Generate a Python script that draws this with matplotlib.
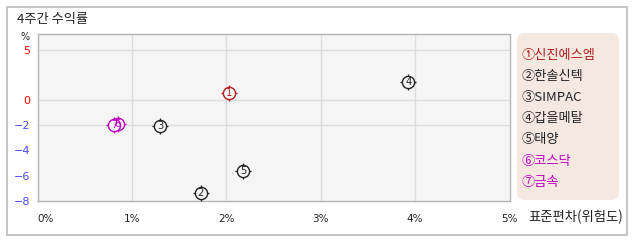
import numpy as np
import matplotlib
matplotlib.use("Agg")
import matplotlib.pyplot as plt
from matplotlib.patches import FancyBboxPatch, Rectangle
import matplotlib.transforms as mtransforms

plt.rcParams['font.family'] = ['Noto Sans CJK KR', 'DejaVu Sans']

# ---- data ----
names = ["신진에스엠", "한솔신텍", "SIMPAC", "갑을메탈", "태양", "코스닥", "금속"]
numbers = ["1", "2", "3", "4", "5", "6", "7"]
circled = ["①", "②", "③", "④", "⑤", "⑥", "⑦"]
risk_pct = [2.03, 1.73, 1.30, 3.93, 2.18, 0.85, 0.81]      # std dev (%)
return_pct = [0.7, -7.4, -2.05, 1.8, -5.6, -1.93, -2.02]   # 4-week return (%)
colors = ["#b01c1c", "#222222", "#222222", "#222222", "#222222", "#c000c0", "#c000c0"]

x_ticks = [0, 1, 2, 3, 4, 5]
x_tick_labels = ["0%", "1%", "2%", "3%", "4%", "5%"]
y_ticks = [5, 0, -2, -4, -6, -8]
y_tick_colors = ["#ff0000", "#ff0000", "#4a4aff", "#4a4aff", "#4a4aff", "#4a4aff"]
x_grid = [1, 2, 3, 4]
y_grid = [5, 0, -2]

W, H = 638, 242
fig = plt.figure(figsize=(W / 100, H / 100), dpi=100)

def fx(px):
    return px / W

def fy(py):
    return 1 - py / H

# outer frame
fig.patches.append(Rectangle((fx(7), fy(235)), fx(620), (235 - 7) / H,
                             transform=fig.transFigure, fill=False,
                             edgecolor="#bbbbbb", linewidth=1.2))
fig.text(fx(17), fy(19), "4주간 수익률", fontsize=9.5, color="#222222",
         ha="left", va="center")

ax = fig.add_axes([fx(37.5), fy(201), fx(509.5 - 37.5), (201 - 34) / H])
ax.set_facecolor("#f5f5f5")

NEG = 1.267
def fwd(y):
    y = np.asarray(y, dtype=float)
    return np.where(y < 0, y * NEG, y)
def inv(y):
    y = np.asarray(y, dtype=float)
    return np.where(y < 0, y / NEG, y)
ax.set_yscale("function", functions=(fwd, inv))
ax.set_xlim(0, 5)
ax.set_ylim(-8, 6.6)

for g in x_grid:
    ax.axvline(g, color="#dddddd", linewidth=1, zorder=0)
for g in y_grid:
    ax.axhline(g, color="#dddddd", linewidth=1, zorder=0)

for s in ax.spines.values():
    s.set_color("#b4b4b4")
    s.set_linewidth(1)

ax.set_xticks(x_ticks)
ax.set_xticklabels(x_tick_labels, family="DejaVu Sans", fontsize=7.5, color="#222222")
shift = mtransforms.ScaledTranslation(2 / 100, 0, fig.dpi_scale_trans)
for lbl in ax.get_xticklabels()[1:]:
    lbl.set_transform(lbl.get_transform() + shift)
ax.get_xticklabels()[0].set_ha("left")
ax.set_yticks(y_ticks)
ax.set_yticklabels([("−" + str(-v)) if v < 0 else str(v) for v in y_ticks],
                   family="DejaVu Sans", fontsize=8)
for lbl, c in zip(ax.get_yticklabels(), y_tick_colors):
    lbl.set_color(c)
ax.tick_params(length=0, pad=5)
ax.tick_params(axis="x", pad=9)
ax.minorticks_off()

for i in range(len(names)):
    ax.plot(risk_pct[i], return_pct[i], marker="+", markersize=11.8,
            markeredgewidth=0.9, color=colors[i], linestyle="none", zorder=3)
    ax.plot(risk_pct[i], return_pct[i], marker="o", markersize=8.8,
            markerfacecolor="#f5f5f5", markeredgecolor=colors[i],
            markeredgewidth=1.0, linestyle="none", zorder=4)
    ax.text(risk_pct[i], return_pct[i], numbers[i], fontsize=7.2, color=colors[i],
            ha="center", va="center", family="DejaVu Sans", zorder=5)

fig.text(fx(25), fy(37), "%", fontsize=7, color="#222222", ha="center",
         va="center", family="DejaVu Sans")
fig.text(fx(528), fy(217), "표준편차(위험도)", fontsize=9.6, color="#222222",
         ha="left", va="center")

# legend box
fig.patches.append(FancyBboxPatch((fx(517), fy(200)), fx(102), (200 - 33) / H,
                                  boxstyle="round,pad=0,rounding_size=0.012",
                                  transform=fig.transFigure,
                                  facecolor="#f5e8e1", edgecolor="none",
                                  mutation_aspect=W / H))
for i in range(len(names)):
    fig.text(fx(522), fy(55 + i * 21.2), circled[i] + names[i],
             fontsize=9.5, color=colors[i], ha="left", va="center")

fig.savefig("out.png", dpi=100)
